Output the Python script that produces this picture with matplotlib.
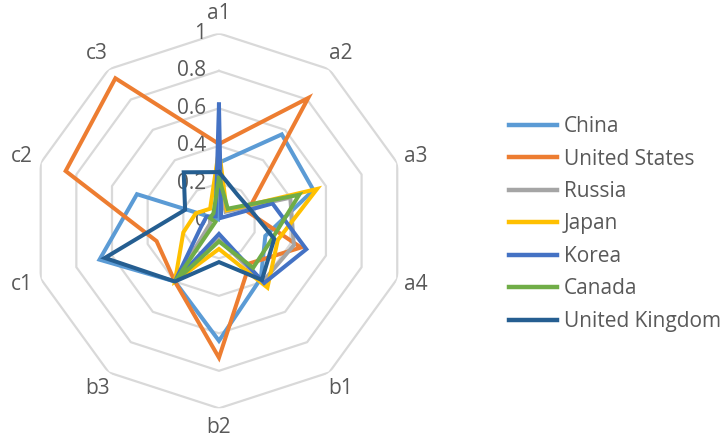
import numpy as np
import matplotlib
matplotlib.use("Agg")
import matplotlib.pyplot as plt

plt.rcParams['font.family'] = ['Open Sans', 'DejaVu Sans']

categories = ['a1', 'a2', 'a3', 'a4', 'b1', 'b2', 'b3', 'c1', 'c2', 'c3']
china = [0.31, 0.57, 0.53, 0.26, 0.38, 0.64, 0.40, 0.67, 0.46, 0.01]
united_states = [0.41, 0.81, 0.16, 0.46, 0.28, 0.73, 0.40, 0.35, 0.86, 0.94]
russia = [0.20, 0.06, 0.40, 0.42, 0.40, 0.10, 0.40, 0.05, 0.05, 0.04]
japan = [0.38, 0.07, 0.55, 0.33, 0.44, 0.15, 0.40, 0.20, 0.13, 0.08]
korea = [0.62, 0.02, 0.30, 0.49, 0.41, 0.07, 0.40, 0.10, 0.07, 0.03]
canada = [0.23, 0.08, 0.45, 0.30, 0.31, 0.11, 0.40, 0.02, 0.05, 0.05]
united_kingdom = [0.26, 0.17, 0.18, 0.31, 0.39, 0.22, 0.40, 0.64, 0.19, 0.32]

countries = ['China', 'United States', 'Russia', 'Japan', 'Korea', 'Canada', 'United Kingdom']
series = [china, united_states, russia, japan, korea, canada, united_kingdom]
colors = ['#5B9BD5', '#ED7D31', '#A5A5A5', '#FFC000', '#4472C4', '#70AD47', '#255E91']
rticks = [0, 0.2, 0.4, 0.6, 0.8, 1]

n = len(categories)
theta = np.linspace(0, 2 * np.pi, n, endpoint=False)
theta_closed = np.append(theta, theta[0])

fig = plt.figure(figsize=(7.21, 4.38), dpi=100)
ax = fig.add_axes([0.0437, 0.0678, 0.520, 0.856], projection='polar')
ax.set_theta_zero_location('N')
ax.set_theta_direction(-1)
ax.set_ylim(0, 1)
ax.grid(False)
ax.set_xticks([])
ax.set_yticks([])
ax.spines['polar'].set_visible(False)
ax.patch.set_alpha(0)

# decagon gridlines
for r in rticks[1:]:
    ax.plot(theta_closed, [r] * (n + 1), color='#D9D9D9', lw=1.6, zorder=1)

for vals, name, c in zip(series, countries, colors):
    v = np.append(vals, vals[0])
    ax.plot(theta_closed, v, color=c, lw=2.9, label=name, zorder=3,
            solid_joinstyle='miter')

text_color = '#595959'
fs = 15
for r in rticks:
    ax.annotate(f'{r:g}', xy=(0, r), xytext=(-9, 0), textcoords='offset points',
                ha='right', va='center', fontsize=fs, color=text_color, zorder=2)

for t, lab in zip(theta, categories):
    ax.text(t, 1.105, lab, ha='center', va='center', fontsize=fs, color=text_color)

leg = fig.legend(loc='upper left', bbox_to_anchor=(0.695, 0.754), frameon=False,
                 fontsize=fs, handlelength=2.3, handletextpad=0.3,
                 labelspacing=0.55, borderaxespad=0)
for t in leg.get_texts():
    t.set_color(text_color)
for h in leg.get_lines():
    h.set_linewidth(3.2)

fig.savefig('out.png', dpi=100)
